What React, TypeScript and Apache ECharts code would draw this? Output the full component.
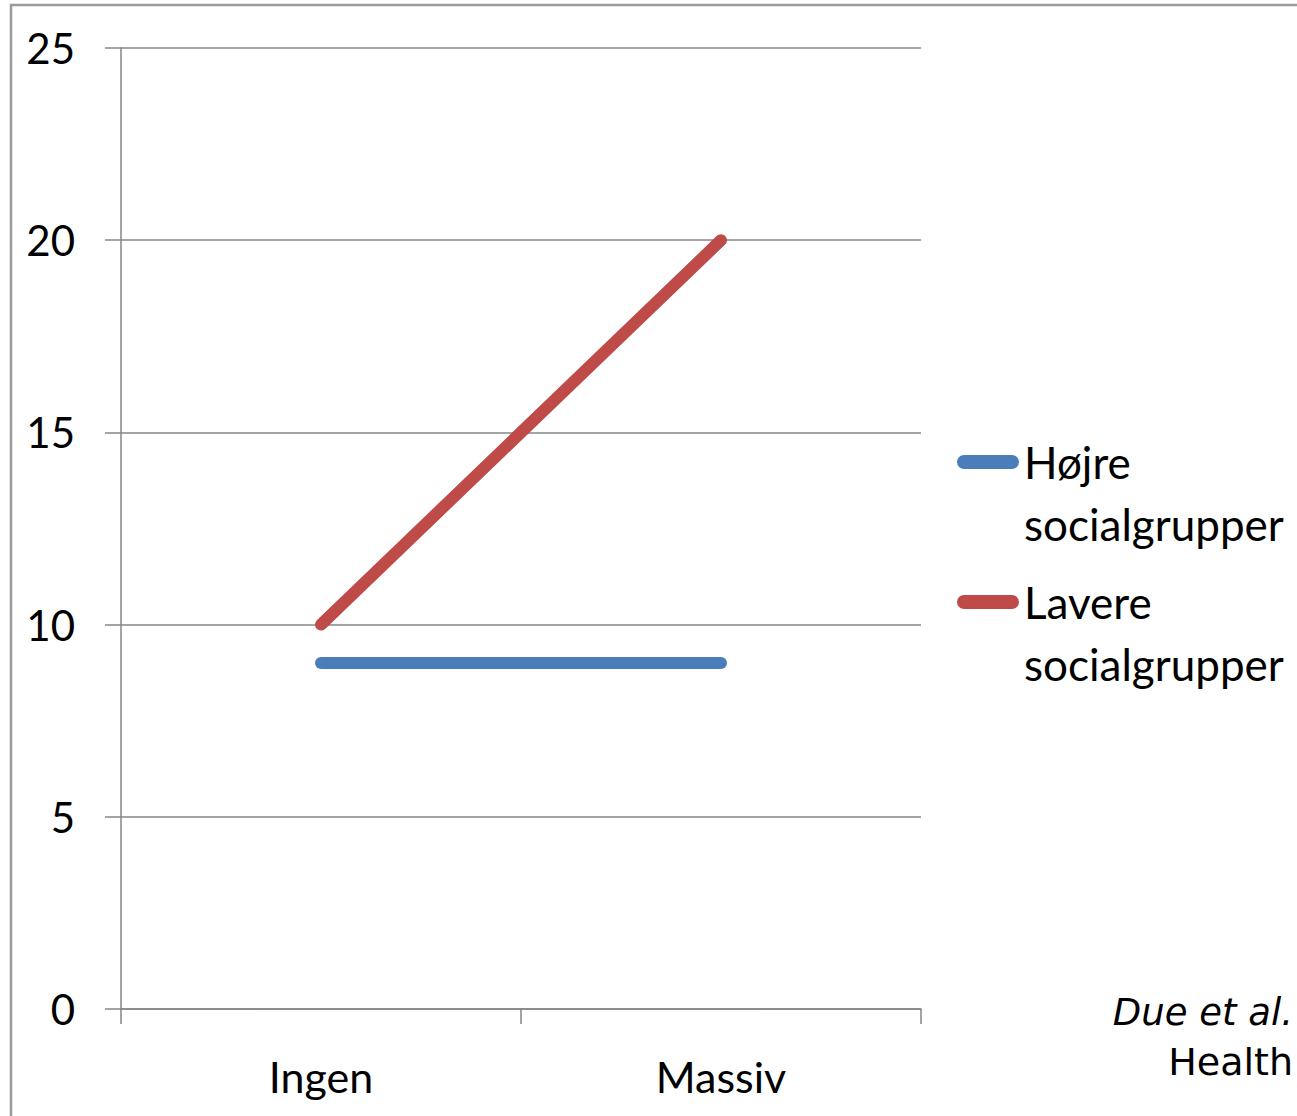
import React, { useEffect, useRef } from "react";
import * as echarts from "echarts";

const categories = ["Ingen", "Massiv"];
const hoejre = [9, 9];
const lavere = [10, 20];
const seriesNames = ["Højre\nsocialgrupper", "Lavere\nsocialgrupper"];
const seriesColors = ["#4A7EBB", "#BE4B48"];
const sourceLines = ["Due et al.", "Health"];

// rounded line at the top of the icon box; a tiny dot at the bottom stretches the box
const legendIcon =
  "path://M7,0 L55,0 A7,7 0 0 1 55,14 L7,14 A7,7 0 0 1 7,0 Z M31,76 L31.01,76 L31,76.01 Z";

export default function App() {
  const ref = useRef<HTMLDivElement>(null);
  useEffect(() => {
    if (!ref.current) return;
    const chart = echarts.init(ref.current, null, { renderer: "svg" });
    const font = "Lato, 'Open Sans', sans-serif";
    chart.setOption({
      animation: false,
      backgroundColor: "#ffffff",
      grid: { left: 121, right: 376, top: 48, bottom: 107, containLabel: false },
      xAxis: {
        type: "category",
        data: categories,
        boundaryGap: true,
        axisLine: { lineStyle: { color: "#868686", width: 1.5 } },
        axisTick: { show: true, length: 15, lineStyle: { color: "#868686", width: 1.5 } },
        axisLabel: { color: "#000", fontFamily: font, fontSize: 43, margin: 46 },
        splitLine: { show: false },
      },
      yAxis: {
        type: "value",
        min: 0,
        max: 25,
        interval: 5,
        axisLine: { show: true, lineStyle: { color: "#868686", width: 1.5 } },
        axisTick: { show: true, length: 16, inside: false, lineStyle: { color: "#868686", width: 1.5 } },
        axisLabel: { color: "#000", fontFamily: font, fontSize: 42, margin: 46 },
        splitLine: { show: true, lineStyle: { color: "#868686", width: 1.5 } },
      },
      legend: {
        orient: "vertical",
        left: 952,
        top: 426,
        itemWidth: 62,
        itemHeight: 76,
        itemGap: 16,
        icon: legendIcon,
        textStyle: {
          color: "#000",
          fontFamily: font,
          fontSize: 44,
          lineHeight: 62,
        },
        data: seriesNames.map((n, i) => ({
          name: n,
          itemStyle: { color: seriesColors[i] },
        })),
      },
      series: [
        {
          name: seriesNames[0],
          type: "line",
          data: hoejre,
          symbol: "none",
          lineStyle: { color: seriesColors[0], width: 12, cap: "round" },
          itemStyle: { color: seriesColors[0] },
        },
        {
          name: seriesNames[1],
          type: "line",
          data: lavere,
          symbol: "none",
          lineStyle: { color: seriesColors[1], width: 12, cap: "round" },
          itemStyle: { color: seriesColors[1] },
        },
      ],
      graphic: [
        {
          type: "rect",
          shape: { x: 11, y: 5, width: 1400, height: 1200 },
          style: { fill: "none", stroke: "#9a9a9a", lineWidth: 2.5 },
          silent: true,
        },
        {
          type: "text",
          x: 1293,
          y: 1012,
          style: {
            text: sourceLines[0],
            fontFamily: "'DejaVu Sans', sans-serif",
            fontStyle: "italic",
            fontSize: 37,
            fill: "#000",
            align: "right",
            verticalAlign: "middle",
          },
        },
        {
          type: "text",
          x: 1293,
          y: 1062,
          style: {
            text: sourceLines[1],
            fontFamily: "'DejaVu Sans', sans-serif",
            fontSize: 38,
            fill: "#000",
            align: "right",
            verticalAlign: "middle",
          },
        },
      ],
    });
    return () => chart.dispose();
  }, []);
  return (
    <div
      ref={ref}
      style={{ position: "fixed", left: 0, top: 0, width: 1297, height: 1116 }}
    />
  );
}
